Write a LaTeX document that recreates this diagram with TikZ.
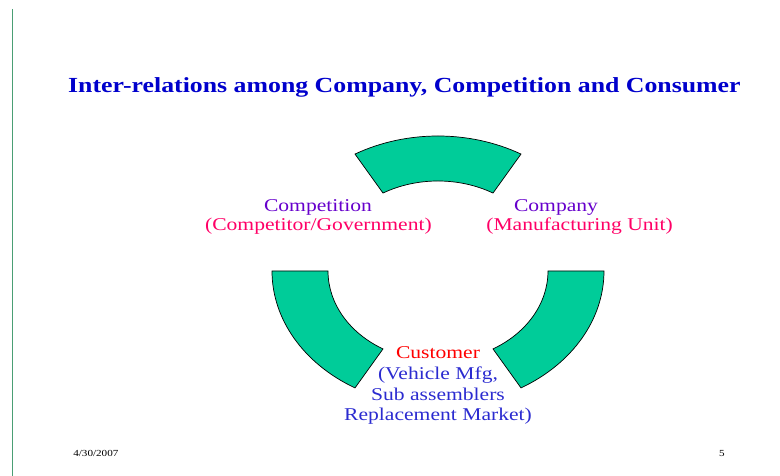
\documentclass[tikz,border=0pt]{standalone}
\usepackage{fontspec}
\setmainfont{Liberation Serif}[FakeStretch=1.2]
\definecolor{RingGreen}{HTML}{00CC99}
\definecolor{TitleBlue}{HTML}{0000CC}
\definecolor{TagPurple}{HTML}{6600CC}
\definecolor{TagPink}{HTML}{FF0066}
\definecolor{MarketBlue}{HTML}{2B2BD0}
\definecolor{RuleGreen}{HTML}{4A9E74}
\tikzset{
  segment/.style={fill=RingGreen, draw=black, line width=0.5pt},
  heading/.style={TitleBlue, font=\fontsize{15.3}{18}\selectfont\bfseries, anchor=base},
  label/.style={font=\fontsize{12.8}{14.7}\selectfont, anchor=base, inner sep=0pt},
  footer/.style={font=\fontsize{6.6}{8}\selectfont, anchor=base, inner sep=0pt}
}

\begin{document}
\begin{tikzpicture}
      \useasboundingbox (0,0) rectangle (19.5,11.9);
      %% left margin rule
      \draw[RuleGreen, line width=0.6pt] (0.3,11.675) -- (0.3,0);
      %% title
      \node[heading] (title) at (10.11,9.575) {Inter-relations among Company, Competition and Consumer};
      %% ring of three block arcs
      \coordinate (hub) at (10.95,5.125);
      \begin{scope}[shift={(hub)}]
        \foreach \a in {60,180,300}
          \path[segment] (\a:4.15 and 3.375)
             arc[start angle=\a, end angle=\a+60, x radius=4.15, y radius=3.375]
             -- (\a+60:2.75 and 2.25)
             arc[start angle=\a+60, end angle=\a, x radius=2.75, y radius=2.25]
             -- cycle;
      \end{scope}
      %% Competition (left)
      \node[label, TagPurple] (competition) at (7.95,6.6) {Competition};
      \node[label, TagPink] (competitionsub) at (7.96,6.125) {(Competitor/Government)};
      %% Company (right)
      \node[label, TagPurple] (company) at (13.9,6.6) {Company};
      \node[label, TagPink] (companysub) at (14.49,6.125) {(Manufacturing Unit)};
      %% Customer (bottom)
      \node[label, red] (customer) at (10.95,2.925) {Customer};
      \node[label, MarketBlue] (customer1) at (10.95,2.41) {(Vehicle Mfg,};
      \node[label, MarketBlue] (customer2) at (10.95,1.89) {Sub assemblers};
      \node[label, MarketBlue] (customer3) at (10.95,1.375) {Replacement Market)};
      %% footer
      \node[footer, anchor=base west] (date) at (1.825,0.475) {4/30/2007};
      \node[footer] (page) at (18.05,0.475) {5};
\end{tikzpicture}
\end{document}
